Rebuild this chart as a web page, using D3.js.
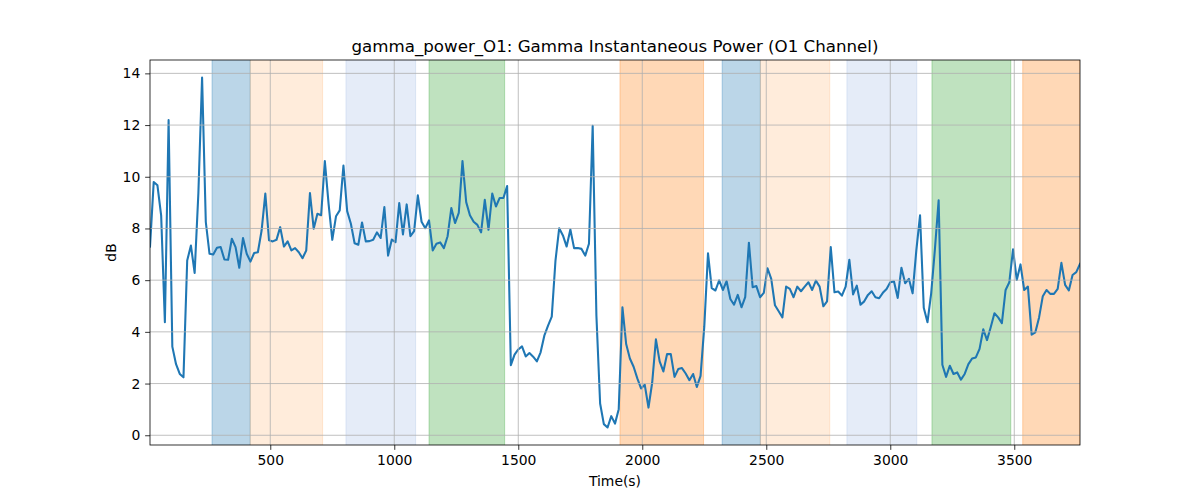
<!DOCTYPE html>
<html>
<head>
<meta charset="utf-8">
<script src="https://cdn.jsdelivr.net/npm/d3@7"></script>
<style>
  html, body { margin: 0; padding: 0; background: #fff; }
  svg { display: block; font-family: "DejaVu Sans", sans-serif; }
</style>
</head>
<body>
<svg id="chart" width="1200" height="500"></svg>
<script>
// ---- data ----
const title = "gamma_power_O1: Gamma Instantaneous Power (O1 Channel)";
const xLabel = "Time(s)";
const yLabel = "dB";
const startTime = 15;   // seconds of first sample
const sampleStep = 15;  // seconds between samples
const powerDb = [
  7.3, 9.80, 9.67, 8.5, 4.37, 12.19, 3.43, 2.75, 2.37, 2.24,
  6.76, 7.34, 6.28, 9.35, 13.84, 8.25, 7.02, 6.99, 7.25, 7.28,
  6.80, 6.79, 7.60, 7.28, 6.48, 7.63, 7.02, 6.72, 7.05, 7.08,
  7.92, 9.35, 7.54, 7.50, 7.56, 8.05, 7.30, 7.50, 7.15, 7.24,
  7.08, 6.85, 7.15, 9.37, 7.99, 8.57, 8.51, 10.61, 8.96, 7.56,
  8.47, 8.70, 10.43, 8.67, 8.18, 7.43, 7.37, 8.23, 7.50, 7.51,
  7.56, 7.85, 7.63, 8.83, 6.95, 7.57, 7.47, 8.98, 7.77, 8.93,
  7.70, 7.90, 9.28, 8.26, 8.01, 8.31, 7.15, 7.41, 7.46, 7.24,
  7.70, 8.79, 8.21, 8.60, 10.61, 9.02, 8.51, 8.26, 8.14, 7.85,
  9.11, 7.95, 9.35, 8.85, 9.18, 9.18, 9.64, 2.71, 3.12, 3.32,
  3.44, 3.05, 3.18, 3.04, 2.86, 3.21, 3.85, 4.24, 4.59, 6.76,
  8.01, 7.73, 7.30, 7.96, 7.24, 7.24, 7.21, 6.95, 7.41, 11.97,
  4.63, 1.23, 0.43, 0.30, 0.74, 0.45, 1.01, 4.95, 3.53, 2.97,
  2.65, 2.20, 1.81, 1.95, 1.07, 2.04, 3.71, 2.86, 2.47, 3.14,
  3.14, 2.26, 2.56, 2.60, 2.39, 2.13, 2.37, 1.87, 2.30, 4.20,
  7.04, 5.69, 5.60, 5.99, 5.62, 5.96, 5.27, 5.05, 5.43, 4.95,
  5.34, 7.45, 5.73, 5.77, 5.34, 5.51, 6.46, 6.05, 5.03, 4.80,
  4.56, 5.75, 5.66, 5.34, 5.75, 5.57, 5.75, 5.92, 5.62, 5.98,
  5.75, 4.99, 5.18, 7.28, 5.53, 5.56, 5.40, 5.75, 6.79, 5.45,
  5.79, 5.05, 5.18, 5.43, 5.57, 5.34, 5.30, 5.51, 5.66, 5.92,
  5.95, 5.31, 6.48, 5.88, 6.05, 5.49, 7.15, 8.51, 4.93, 4.37,
  5.50, 7.20, 9.09, 2.73, 2.26, 2.69, 2.37, 2.43, 2.15, 2.37,
  2.75, 2.97, 3.01, 3.34, 4.10, 3.68, 4.18, 4.72, 4.56, 4.34,
  5.62, 5.92, 7.19, 6.01, 6.61, 5.62, 5.75, 3.89, 3.98, 4.56,
  5.38, 5.62, 5.47, 5.47, 5.66, 6.67, 5.82, 5.60, 6.20, 6.31,
  6.63
];
// shaded segments: start, end (seconds) and colour/opacity style name
const segStart = [265, 419, 805, 1140, 1910, 2322, 2476, 2825, 3168, 3534];
const segEnd   = [419, 711, 1086, 1445, 2247, 2476, 2756, 3107, 3486, 3765];
const segKind  = ["blueStrong", "orangeLight", "blueLight", "greenStrong", "orangeStrong",
                  "blueStrong", "orangeLight", "blueLight", "greenStrong", "orangeStrong"];
const xTicks = [500, 1000, 1500, 2000, 2500, 3000, 3500];
const yTicks = [0, 2, 4, 6, 8, 10, 12, 14];

// ---- styles ----
const kindStyle = {
  blueStrong:   { color: "#1f77b4", alpha: 0.3 },
  orangeLight:  { color: "#ff7f0e", alpha: 0.15 },
  blueLight:    { color: "#6d93d6", alpha: 0.18 },
  greenStrong:  { color: "#2ca02c", alpha: 0.3 },
  orangeStrong: { color: "#ff7f0e", alpha: 0.3 }
};

const W = 1200, H = 500;
const m = { left: 150, right: 1080, top: 60, bottom: 445 };
const times = powerDb.map((_, i) => startTime + i * sampleStep);
const data = powerDb.map((v, i) => ({ t: times[i], v }));

const svg = d3.select("#chart");

const x = d3.scaleLinear().domain(d3.extent(times)).range([m.left, m.right]);
const yMin = d3.min(powerDb), yMax = d3.max(powerDb);
const pad = (yMax - yMin) * 0.05;
const y = d3.scaleLinear().domain([yMin - pad, yMax + pad]).range([m.bottom, m.top]);

svg.append("defs").append("clipPath").attr("id", "clip")
  .append("rect").attr("x", m.left).attr("y", m.top)
  .attr("width", m.right - m.left).attr("height", m.bottom - m.top);

const plot = svg.append("g").attr("clip-path", "url(#clip)");

// spans
plot.selectAll("rect.span").data(segStart.map((s, i) => ({ s, e: segEnd[i], k: segKind[i] })))
  .enter().append("rect").attr("class", "span")
  .attr("x", d => x(d.s)).attr("width", d => x(d.e) - x(d.s))
  .attr("y", m.top - 2).attr("height", m.bottom - m.top + 4)
  .attr("fill", d => kindStyle[d.k].color).attr("fill-opacity", d => kindStyle[d.k].alpha)
  .attr("stroke", d => kindStyle[d.k].color).attr("stroke-opacity", d => kindStyle[d.k].alpha)
  .attr("stroke-width", 1);

// grid
const grid = svg.append("g");
grid.selectAll("line.gx").data(xTicks).enter().append("line")
  .attr("x1", d => x(d)).attr("x2", d => x(d)).attr("y1", m.top).attr("y2", m.bottom)
  .attr("stroke", "#b0b0b0").attr("stroke-width", 0.8);
grid.selectAll("line.gy").data(yTicks).enter().append("line")
  .attr("x1", m.left).attr("x2", m.right).attr("y1", d => y(d)).attr("y2", d => y(d))
  .attr("stroke", "#b0b0b0").attr("stroke-width", 0.8);

// line
plot.append("path").datum(data)
  .attr("fill", "none").attr("stroke", "#1f77b4").attr("stroke-width", 2.08)
  .attr("stroke-linejoin", "round").attr("stroke-linecap", "square")
  .attr("d", d3.line().x(d => x(d.t)).y(d => y(d.v)));

// frame
svg.append("rect").attr("x", m.left).attr("y", m.top)
  .attr("width", m.right - m.left).attr("height", m.bottom - m.top)
  .attr("fill", "none").attr("stroke", "#000").attr("stroke-width", 0.8);

// axes
const xAxis = d3.axisBottom(x).tickValues(xTicks).tickSize(4.86).tickPadding(4.86).tickFormat(d3.format("d"));
const yAxis = d3.axisLeft(y).tickValues(yTicks).tickSize(4.86).tickPadding(4.86).tickFormat(d3.format("d"));
const gx = svg.append("g").attr("transform", `translate(0,${m.bottom})`).call(xAxis);
const gy = svg.append("g").attr("transform", `translate(${m.left},0)`).call(yAxis);
[gx, gy].forEach(g => {
  g.select(".domain").remove();
  g.selectAll(".tick line").attr("stroke", "#000").attr("stroke-width", 0.8);
  g.selectAll(".tick text").attr("fill", "#000").style("font-size", "13.9px")
    .style("font-family", "'DejaVu Sans', sans-serif");
});

// labels
svg.append("text").attr("x", (m.left + m.right) / 2).attr("y", 51.7)
  .attr("text-anchor", "middle").style("font-size", "16.67px").attr("fill", "#000").text(title);
svg.append("text").attr("x", (m.left + m.right) / 2).attr("y", 486)
  .attr("text-anchor", "middle").style("font-size", "13.9px").attr("fill", "#000").text(xLabel);
svg.append("text").attr("transform", `translate(116,${(m.top + m.bottom) / 2}) rotate(-90)`)
  .attr("text-anchor", "middle").style("font-size", "13.9px").attr("fill", "#000").text(yLabel);
</script>
</body>
</html>
